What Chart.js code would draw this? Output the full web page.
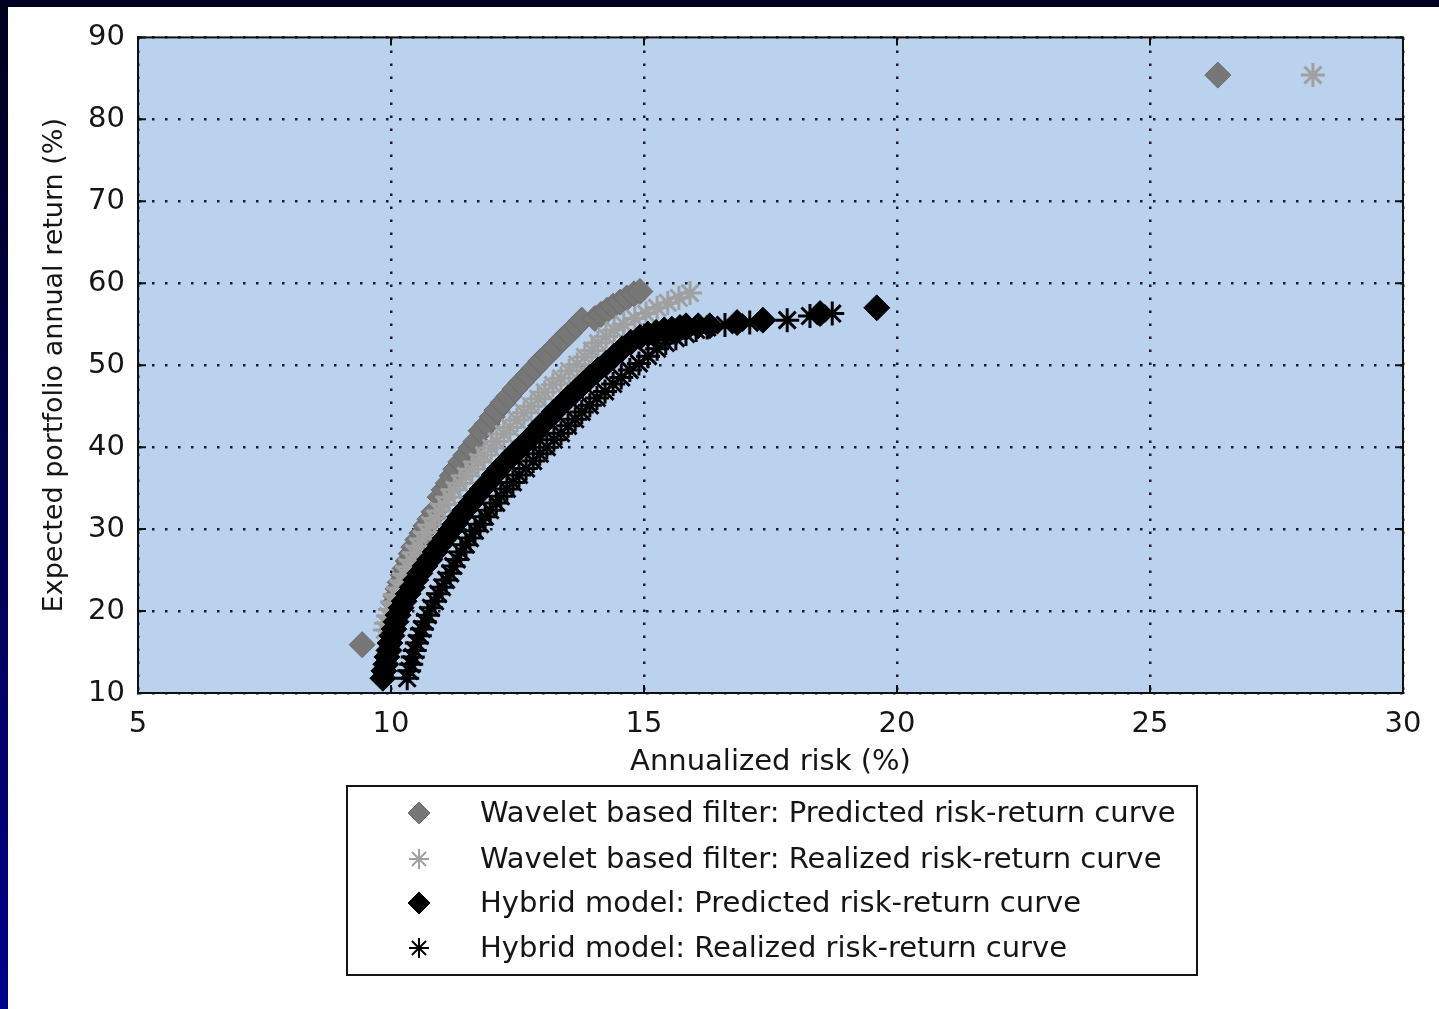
<!DOCTYPE html>
<html><head><meta charset="utf-8">
<script src="https://cdn.jsdelivr.net/npm/chart.js@4.4.1/dist/chart.umd.min.js"></script>
<style>
html,body{margin:0;padding:0;}
body{width:1439px;height:1009px;overflow:hidden;position:relative;
 background:linear-gradient(to bottom,#000020 0%,#000050 50%,#00008c 100%);}
#panel{position:absolute;left:8px;top:7px;width:1431px;height:1002px;background:#fff;}
canvas{display:block;}
</style></head><body>
<div id="panel"><canvas id="c" width="1431" height="1002"></canvas></div>
<script>
// ---- data ----
const xTicks = [5, 10, 15, 20, 25, 30];
const yTicks = [10, 20, 30, 40, 50, 60, 70, 80, 90];
const seriesLabels = [
  'Wavelet based filter: Predicted risk-return curve',
  'Wavelet based filter: Realized risk-return curve',
  'Hybrid model: Predicted risk-return curve',
  'Hybrid model: Realized risk-return curve'
];
// Wavelet based filter, predicted (annualized risk %, expected return %)
const wpRisk   = [9.43, 10.06, 10.10, 10.14, 10.18, 10.24, 10.28, 10.34, 10.40, 10.45, 10.53, 10.61, 10.69, 10.77, 10.85,
                  10.97, 11.05, 11.13, 11.21, 11.28, 11.38, 11.48, 11.58, 11.68,
                  11.78, 11.90, 12.00, 12.09, 12.21, 12.33, 12.45, 12.57, 12.71, 12.83, 12.96, 13.10, 13.24, 13.38, 13.52, 13.66, 13.77,
                  14.03, 14.15, 14.27, 14.39, 14.53, 14.66, 14.80, 14.92, 26.34];
const wpReturn = [15.9, 21.0, 21.8, 22.7, 23.5, 24.4, 25.2, 26.1, 27.0, 27.8, 28.7, 29.5, 30.4, 31.2, 32.1,
                  33.9, 34.8, 35.6, 36.5, 37.3, 38.2, 39.0, 39.9, 40.7,
                  42.0, 42.8, 43.7, 44.5, 45.4, 46.2, 47.1, 47.9, 48.8, 49.6, 50.5, 51.3, 52.2, 53.1, 53.9, 54.8, 55.5,
                  55.7, 56.2, 56.7, 57.2, 57.7, 58.2, 58.7, 59.0, 85.4];
// Wavelet based filter, realized
const wrRisk   = [9.88, 9.90, 9.94, 9.98, 10.02, 10.08, 10.14, 10.20, 10.26, 10.32, 10.40, 10.45, 10.53, 10.61, 10.69, 10.77, 10.87, 10.95, 11.05, 11.15,
                  11.25, 11.36, 11.48, 11.60, 11.72, 11.84, 11.98, 12.09, 12.23, 12.35, 12.49, 12.63, 12.77, 12.91, 13.04, 13.20, 13.36, 13.52, 13.68, 13.83,
                  13.97, 14.09, 14.25, 14.41, 14.60, 14.82, 15.04, 15.26, 15.47, 15.69, 15.91, 28.22];
const wrReturn = [17.7, 18.5, 19.4, 20.2, 21.1, 22.0, 22.8, 23.7, 24.5, 25.4, 26.2, 27.1, 27.9, 28.8, 29.6, 30.5, 31.3, 32.2, 33.0, 33.9,
                  34.8, 35.6, 36.5, 37.3, 38.2, 39.0, 39.9, 40.7, 41.6, 42.4, 43.3, 44.2, 45.0, 45.9, 46.7, 47.6, 48.4, 49.3, 50.1, 51.0,
                  51.8, 52.7, 53.5, 54.3, 55.0, 55.7, 56.3, 57.0, 57.6, 58.2, 58.8, 85.4];
// Hybrid model, predicted
const hpRisk   = [9.84, 9.86, 9.90, 9.92, 9.96, 9.98, 10.02, 10.06, 10.10, 10.14, 10.20, 10.26, 10.34, 10.42, 10.49, 10.57, 10.67, 10.77, 10.87, 10.97,
                  11.07, 11.17, 11.26, 11.36, 11.46, 11.58, 11.68, 11.80, 11.92, 12.04, 12.15, 12.29, 12.43, 12.57, 12.71, 12.85, 12.96, 13.10, 13.22, 13.36,
                  13.50, 13.64, 13.79, 13.93, 14.09, 14.25, 14.41, 14.57, 14.74, 14.92, 15.08, 15.24, 15.40, 15.55, 15.71, 15.83, 16.07, 16.30, 16.84, 17.35,
                  18.48, 19.60];
const hpReturn = [11.8, 12.7, 13.5, 14.4, 15.2, 16.1, 17.0, 17.8, 18.7, 19.5, 20.4, 21.2, 22.1, 22.9, 23.8, 24.6, 25.5, 26.3, 27.2, 28.1,
                  28.9, 29.8, 30.6, 31.5, 32.3, 33.2, 34.0, 34.9, 35.7, 36.6, 37.4, 38.3, 39.2, 40.0, 40.9, 41.7, 42.6, 43.4, 44.3, 45.1,
                  46.0, 46.8, 47.7, 48.5, 49.4, 50.2, 51.1, 52.0, 52.8, 53.4, 53.8, 54.0, 54.3, 54.4, 54.6, 54.8, 54.8, 54.8, 55.2, 55.5,
                  56.3, 57.0];
// Hybrid model, realized
const hrRisk   = [10.32, 10.36, 10.40, 10.43, 10.47, 10.51, 10.57, 10.61, 10.67, 10.73, 10.79, 10.87, 10.93, 11.01, 11.09, 11.17, 11.23, 11.30, 11.38, 11.48,
                  11.56, 11.66, 11.76, 11.86, 11.96, 12.08, 12.17, 12.29, 12.41, 12.53, 12.67, 12.81, 12.94, 13.08, 13.22, 13.36, 13.50, 13.64, 13.77, 13.93,
                  14.07, 14.23, 14.39, 14.55, 14.72, 14.90, 15.08, 15.26, 15.43, 15.63, 15.83, 16.03, 16.25, 16.60, 17.09, 17.83, 18.28, 18.72];
const hrReturn = [11.8, 12.7, 13.5, 14.4, 15.2, 16.1, 17.0, 17.8, 18.7, 19.5, 20.4, 21.2, 22.1, 22.9, 23.8, 24.6, 25.5, 26.3, 27.2, 28.1,
                  28.9, 29.8, 30.6, 31.5, 32.3, 33.2, 34.0, 34.9, 35.7, 36.6, 37.4, 38.3, 39.2, 40.0, 40.9, 41.7, 42.6, 43.4, 44.3, 45.1,
                  46.0, 46.8, 47.7, 48.5, 49.4, 50.2, 51.1, 52.0, 52.7, 53.3, 53.8, 54.3, 54.6, 54.9, 55.2, 55.5, 56.0, 56.3];

const pts = (xs, ys) => xs.map((x, i) => ({x: x, y: ys[i]}));

const FONT = 'DejaVu Sans';
const TEXT = '#151515';

const bgPlugin = {
  id: 'bg',
  beforeDraw(chart) {
    const {ctx, chartArea: a} = chart;
    ctx.save();
    ctx.fillStyle = '#bad2ee';
    ctx.fillRect(a.left, a.top, a.right - a.left, a.bottom - a.top);
    ctx.restore();
  }
};

const framePlugin = {
  id: 'frame',
  afterDraw(chart) {
    const {ctx, chartArea: a, scales} = chart;
    ctx.save();
    ctx.strokeStyle = '#101010';
    ctx.lineWidth = 2;
    ctx.strokeRect(a.left, a.top, a.right - a.left, a.bottom - a.top);
    const L = 8;
    ctx.beginPath();
    scales.x.ticks.forEach(t => {
      const px = scales.x.getPixelForValue(t.value);
      ctx.moveTo(px, a.bottom); ctx.lineTo(px, a.bottom - L);
      ctx.moveTo(px, a.top); ctx.lineTo(px, a.top + L);
    });
    scales.y.ticks.forEach(t => {
      const py = scales.y.getPixelForValue(t.value);
      ctx.moveTo(a.left, py); ctx.lineTo(a.left + L, py);
      ctx.moveTo(a.right, py); ctx.lineTo(a.right - L, py);
    });
    ctx.stroke();
    ctx.restore();
  }
};

const legendPlugin = {
  id: 'boxLegend',
  afterDraw(chart) {
    const ctx = chart.ctx;
    const box = {x: 339, y: 779, w: 850, h: 189};
    const rows = [806, 852, 896, 941];
    ctx.save();
    ctx.fillStyle = '#ffffff';
    ctx.fillRect(box.x, box.y, box.w, box.h);
    ctx.strokeStyle = '#151515';
    ctx.lineWidth = 2;
    ctx.strokeRect(box.x, box.y, box.w, box.h);
    chart.data.datasets.forEach((ds, i) => {
      const y = rows[i];
      ctx.save();
      ctx.fillStyle = ds.backgroundColor || 'rgba(0,0,0,0)';
      ctx.strokeStyle = ds.borderColor;
      ctx.lineWidth = ds.legendBorder;
      Chart.helpers.drawPoint(ctx, {pointStyle: ds.pointStyle, radius: ds.legendRadius, rotation: 0, borderWidth: ds.legendBorder}, 411, y);
      ctx.restore();
      ctx.fillStyle = TEXT;
      ctx.font = '29px "' + FONT + '"';
      ctx.textBaseline = 'middle';
      ctx.textAlign = 'left';
      ctx.fillText(ds.label, 472, y + 1);
    });
    ctx.restore();
  }
};

const gridOpts = {color: '#1a1a2e', lineWidth: 2.5, drawTicks: false};
const borderOpts = {display: true, color: '#101010', width: 2, dash: [2.5, 10.5]};

new Chart(document.getElementById('c').getContext('2d'), {
  type: 'scatter',
  data: {
    datasets: [
      {label: seriesLabels[0], data: pts(wpRisk, wpReturn), pointStyle: 'rectRot', pointRadius: 13,
       backgroundColor: '#777777', borderColor: '#6c6c6c', borderWidth: 1, order: 4, legendRadius: 11, legendBorder: 1},
      {label: seriesLabels[1], data: pts(wrRisk, wrReturn), pointStyle: 'star', pointRadius: 12,
       backgroundColor: 'rgba(0,0,0,0)', borderColor: '#a0a0a0', borderWidth: 3, order: 3, legendRadius: 10, legendBorder: 2},
      {label: seriesLabels[2], data: pts(hpRisk, hpReturn), pointStyle: 'rectRot', pointRadius: 13,
       backgroundColor: '#000000', borderColor: '#000000', borderWidth: 1, order: 2, legendRadius: 11, legendBorder: 1},
      {label: seriesLabels[3], data: pts(hrRisk, hrReturn), pointStyle: 'star', pointRadius: 12,
       backgroundColor: 'rgba(0,0,0,0)', borderColor: '#000000', borderWidth: 3, order: 1, legendRadius: 10, legendBorder: 2}
    ]
  },
  options: {
    responsive: false,
    animation: false,
    events: [],
    layout: {padding: {left: 0, top: 30, right: 36, bottom: 216}},
    plugins: {legend: {display: false}, tooltip: {enabled: false}},
    scales: {
      x: {
        type: 'linear', min: 5, max: 30,
        afterBuildTicks: s => { s.ticks = xTicks.map(v => ({value: v})); },
        afterFit: s => { s.height = 100; },
        grid: gridOpts, border: borderOpts,
        ticks: {padding: 14, color: TEXT, font: {family: FONT, size: 29}},
        title: {display: true, text: 'Annualized risk (%)', color: TEXT,
                font: {family: FONT, size: 29}, padding: {top: 0, bottom: 13}}
      },
      y: {
        type: 'linear', min: 10, max: 90,
        afterBuildTicks: s => { s.ticks = yTicks.map(v => ({value: v})); },
        afterFit: s => { s.width = 130; },
        grid: gridOpts, border: borderOpts,
        ticks: {padding: 13, color: TEXT, font: {family: FONT, size: 29}},
        title: {display: true, text: 'Expected portfolio annual return (%)', color: TEXT,
                font: {family: FONT, size: 27}, padding: {top: 31, bottom: 0}}
      }
    }
  },
  plugins: [bgPlugin, framePlugin, legendPlugin]
});
</script></body></html>
